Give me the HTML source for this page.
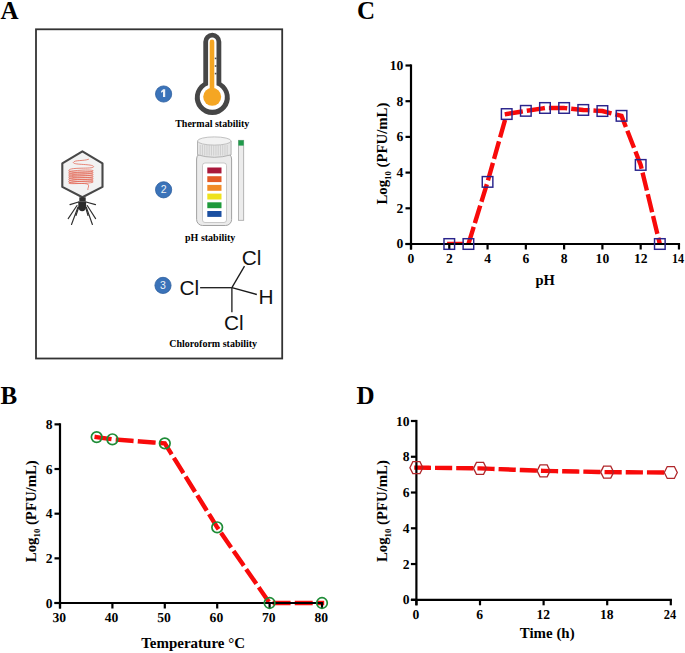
<!DOCTYPE html>
<html><head><meta charset="utf-8"><style>
html,body{margin:0;padding:0;background:#fff;width:685px;height:653px;overflow:hidden}
svg{display:block}
</style></head><body>
<svg width="685" height="653" viewBox="0 0 685 653">
<rect width="685" height="653" fill="#fff"/>
<text x="0.4" y="18.7" font-family='"Liberation Serif", serif' font-weight="bold" font-size="25">A</text>
<text x="0.5" y="403.7" font-family='"Liberation Serif", serif' font-weight="bold" font-size="25">B</text>
<text x="357" y="18.7" font-family='"Liberation Serif", serif' font-weight="bold" font-size="25">C</text>
<text x="356.5" y="403.7" font-family='"Liberation Serif", serif' font-weight="bold" font-size="25">D</text>
<rect x="36" y="29.3" width="246.2" height="329.2" fill="none" stroke="#333" stroke-width="1.8"/>
<circle cx="163.6" cy="94" r="8.1" fill="#3b73b9" stroke="#2c5e9e" stroke-width="0.8"/>
<path d="M163,89.3 L165.2,89.3 L165.2,97 L163,97 L163,91.8 Q162.2,92.5 161.1,92.8 L161.1,90.9 Q162.5,90.4 163,89.3 Z" fill="#eef2f7"/>
<circle cx="163.6" cy="189.8" r="8.1" fill="#3b73b9" stroke="#2c5e9e" stroke-width="0.8"/>
<text x="163.6" y="193.4" text-anchor="middle" font-family='"Liberation Sans", sans-serif' font-size="10.5" fill="#eef2f7">2</text>
<circle cx="163" cy="285.4" r="8.1" fill="#3b73b9" stroke="#2c5e9e" stroke-width="0.8"/>
<text x="163" y="289.0" text-anchor="middle" font-family='"Liberation Sans", sans-serif' font-size="10.5" fill="#eef2f7">3</text>
<g transform="translate(-0.4,0)">
<path d="M203.7,41.8 A9,9 0 0 1 221.7,41.8 L221.7,82.5 A17.5,17.5 0 1 1 203.7,82.5 Z" fill="#464646"/>
<path d="M208.5,41.8 A4.2,4.2 0 0 1 216.9,41.8 L216.9,85.3 A12.6,12.6 0 1 1 208.5,85.3 Z" fill="#fff"/>
<rect x="210.1" y="39.6" width="4.6" height="55" rx="2.3" fill="#f5a623"/>
<circle cx="212.6" cy="96.8" r="9" fill="#f5a623"/>
<rect x="215.2" y="57.6" width="1.7" height="1.6" fill="#505050"/>
<rect x="215.2" y="65.2" width="1.7" height="1.6" fill="#505050"/>
<rect x="215.2" y="72.8" width="1.7" height="1.6" fill="#505050"/>
</g>
<text x="212.3" y="126.6" text-anchor="middle" font-family='"Liberation Serif", serif' font-weight="bold" font-size="10">Thermal stability</text>
<g>
<rect x="196.6" y="153" width="35" height="72.5" rx="6" fill="#ebebeb" stroke="#a2a2a2" stroke-width="1"/>
<rect x="202.5" y="163" width="24" height="59.5" rx="2.5" fill="#fff" stroke="#b4b4b4" stroke-width="0.7"/>
<path d="M197.5,141 L197.5,154.8 Q214.3,159.8 231.1,154.8 L231.1,141 Z" fill="#e6e6e6" stroke="#aaaaaa" stroke-width="0.9"/>
<ellipse cx="214.3" cy="141" rx="16.8" ry="4.1" fill="#f2f2f2" stroke="#b2b2b2" stroke-width="0.8"/>
<line x1="200.2" y1="145" x2="200.2" y2="155.5" stroke="#c4c4c4" stroke-width="0.7"/>
<line x1="202.45" y1="145" x2="202.45" y2="155.5" stroke="#c4c4c4" stroke-width="0.7"/>
<line x1="204.7" y1="145" x2="204.7" y2="155.5" stroke="#c4c4c4" stroke-width="0.7"/>
<line x1="206.95" y1="145" x2="206.95" y2="155.5" stroke="#c4c4c4" stroke-width="0.7"/>
<line x1="209.2" y1="145" x2="209.2" y2="155.5" stroke="#c4c4c4" stroke-width="0.7"/>
<line x1="211.45" y1="145" x2="211.45" y2="155.5" stroke="#c4c4c4" stroke-width="0.7"/>
<line x1="213.7" y1="145" x2="213.7" y2="155.5" stroke="#c4c4c4" stroke-width="0.7"/>
<line x1="215.95" y1="145" x2="215.95" y2="155.5" stroke="#c4c4c4" stroke-width="0.7"/>
<line x1="218.2" y1="145" x2="218.2" y2="155.5" stroke="#c4c4c4" stroke-width="0.7"/>
<line x1="220.45" y1="145" x2="220.45" y2="155.5" stroke="#c4c4c4" stroke-width="0.7"/>
<line x1="222.7" y1="145" x2="222.7" y2="155.5" stroke="#c4c4c4" stroke-width="0.7"/>
<line x1="224.95" y1="145" x2="224.95" y2="155.5" stroke="#c4c4c4" stroke-width="0.7"/>
<line x1="227.2" y1="145" x2="227.2" y2="155.5" stroke="#c4c4c4" stroke-width="0.7"/>
<rect x="207.3" y="167.5" width="14.2" height="5.9" fill="#a9183b"/>
<rect x="207.3" y="176.2" width="14.2" height="5.9" fill="#e35b27"/>
<rect x="207.3" y="184.9" width="14.2" height="5.9" fill="#f18a27"/>
<rect x="207.3" y="193.6" width="14.2" height="5.9" fill="#eee21c"/>
<rect x="207.3" y="202.3" width="14.2" height="5.9" fill="#1f9a3c"/>
<rect x="207.3" y="211" width="14.2" height="5.9" fill="#1b4fa1"/>
<rect x="238.4" y="140.3" width="5.3" height="80" fill="#ececec" stroke="#a4a4a4" stroke-width="0.8"/>
<rect x="238.4" y="140.3" width="5.3" height="5.3" fill="#1f9a4a"/>
</g>
<text x="210.2" y="240.5" text-anchor="middle" font-family='"Liberation Serif", serif' font-weight="bold" font-size="10">pH stability</text>
<g stroke="#1a1a1a" stroke-width="1.3" fill="none">
<line x1="200.1" y1="287.7" x2="231.9" y2="287.7"/>
<line x1="231.9" y1="287.7" x2="244.5" y2="266.1"/>
<line x1="231.9" y1="287.7" x2="256.8" y2="294.5"/>
<line x1="231.9" y1="287.7" x2="231.9" y2="312.3"/>
</g>
<g font-family='"Liberation Sans", sans-serif' font-size="20.8" fill="#111">
<text x="241.8" y="264.9">Cl</text>
<text x="179.4" y="295">Cl</text>
<text x="258.4" y="303.7">H</text>
<text x="224.1" y="330.3">Cl</text>
</g>
<text x="213.2" y="347" text-anchor="middle" font-family='"Liberation Serif", serif' font-weight="bold" font-size="10">Chloroform stability</text>
<g>
<polygon points="82.4,151.3 102.5,163.4 102.5,186.9 82.4,197.2 62.3,186.9 62.3,163.4" fill="#f2f2f2" stroke="#484848" stroke-width="2.1" stroke-linejoin="round"/>
<path d="M88.5,159.3 C84,161.2 74.5,159.8 73.4,162.4 C72.6,165.2 92.5,163.6 93.6,166.6 C94.4,169.4 71,166.8 68.8,170.2 C67.6,172.6 86,172.8 92.6,171.3 C95.2,170.3 90,169.6 80,170.3 C72,170.8 68.4,171.3 68.8,172.05 C67.6,174.45 86,174.65 92.6,173.15 C95.2,172.15 90,171.45 80,172.15 C72,172.65 68.4,173.15 68.8,173.9 C67.6,176.3 86,176.5 92.6,175 C95.2,174 90,173.3 80,174 C72,174.5 68.4,175 68.8,175.75 C67.6,178.15 86,178.35 92.6,176.85 C95.2,175.85 90,175.15 80,175.85 C72,176.35 68.4,176.85 68.8,177.6 C67.6,180 86,180.2 92.6,178.7 C95.2,177.7 90,177 80,177.7 C72,178.2 68.4,178.7 68.8,179.45 C67.6,181.85 86,182.05 92.6,180.55 C95.2,179.55 90,178.85 80,179.55 C72,180.05 68.4,180.55 68.8,181.3 C67.6,183.7 86,183.9 92.6,182.4 C95.2,181.4 90,180.7 80,181.4 C72,181.9 68.4,182.4 68.8,183.15 C69.5,184.6 86.5,182.2 88.3,184.6 C89.4,186.3 87.6,187.8 87.8,189.6" fill="none" stroke="#e36a58" stroke-width="0.8" stroke-linecap="round"/>
<rect x="79.3" y="197.3" width="6.4" height="4.3" fill="#2f2f2f"/>
<path d="M78.2,201.4 L86.2,201.4 L86,207 Q85.5,211.3 82.2,211.3 Q78.8,211.3 78.4,207 Z" fill="#2b2b2b"/>
<g stroke="#2f2f2f" stroke-width="1.15" fill="none" stroke-linecap="round">
<line x1="78.5" y1="202" x2="70" y2="204.6"/>
<line x1="86" y1="202" x2="95.5" y2="204.6"/>
<line x1="77" y1="205.5" x2="68.2" y2="218.6"/>
<line x1="78" y1="207" x2="71.5" y2="224.5"/>
<line x1="78.8" y1="207" x2="76" y2="215.5"/>
<line x1="85.5" y1="207" x2="88" y2="215.5"/>
<line x1="87.2" y1="205.5" x2="95.6" y2="218.6"/>
<line x1="86.2" y1="207" x2="92.4" y2="224.5"/>
</g>
</g>
<defs><clipPath id="clC"><rect x="300" y="0" width="385" height="244.5"/></clipPath><clipPath id="clB"><rect x="0" y="380" width="340" height="603.5"/></clipPath><clipPath id="clD"><rect x="380" y="380" width="305" height="220.3"/></clipPath></defs>
<polyline points="449.28,244 468.42,244 487.56,181.88 506.7,114.05 525.84,110.84 544.98,107.98 564.12,107.98 583.26,109.95 602.4,111.02 621.54,115.84 640.68,164.92 659.82,244" fill="none" stroke="#f80a0a" stroke-width="4.4" stroke-dasharray="13.93 8.4" stroke-dashoffset="1.46" stroke-linecap="square" stroke-linejoin="miter" clip-path="url(#clC)"/>
<polyline points="96.68,437.09 112.4,439.32 164.8,443.34 217.2,527.3 269.6,603 322,603" fill="none" stroke="#f80a0a" stroke-width="4.4" stroke-dasharray="13.52 8.6" stroke-dashoffset="0.72" stroke-linecap="square" stroke-linejoin="miter" clip-path="url(#clB)"/>
<polyline points="416.4,467.67 480,468.38 543.6,470.89 607.2,472.14 662.32,472.49" fill="none" stroke="#f80a0a" stroke-width="4.4" stroke-dasharray="12.8 8.4" stroke-dashoffset="0.4" stroke-linecap="square" stroke-linejoin="miter" clip-path="url(#clD)"/>
<g font-family='"Liberation Serif", serif' font-weight="bold" font-size="13.6" text-rendering="geometricPrecision">
<line x1="411" y1="64.4" x2="411" y2="249.5" stroke="#000" stroke-width="2.2"/>
<line x1="405.5" y1="244" x2="680.06" y2="244" stroke="#000" stroke-width="2.2"/>
<line x1="405.5" y1="244" x2="411" y2="244" stroke="#000" stroke-width="2.2"/>
<text x="403.4" y="248.3" text-anchor="end">0</text>
<line x1="405.5" y1="208.3" x2="411" y2="208.3" stroke="#000" stroke-width="2.2"/>
<text x="403.4" y="212.6" text-anchor="end">2</text>
<line x1="405.5" y1="172.6" x2="411" y2="172.6" stroke="#000" stroke-width="2.2"/>
<text x="403.4" y="176.9" text-anchor="end">4</text>
<line x1="405.5" y1="136.9" x2="411" y2="136.9" stroke="#000" stroke-width="2.2"/>
<text x="403.4" y="141.2" text-anchor="end">6</text>
<line x1="405.5" y1="101.2" x2="411" y2="101.2" stroke="#000" stroke-width="2.2"/>
<text x="403.4" y="105.5" text-anchor="end">8</text>
<line x1="405.5" y1="65.5" x2="411" y2="65.5" stroke="#000" stroke-width="2.2"/>
<text x="403.4" y="69.8" text-anchor="end">10</text>
<line x1="411" y1="244" x2="411" y2="249.5" stroke="#000" stroke-width="2.2"/>
<text x="411" y="262.9" text-anchor="middle">0</text>
<line x1="449.28" y1="244" x2="449.28" y2="249.5" stroke="#000" stroke-width="2.2"/>
<text x="449.28" y="262.9" text-anchor="middle">2</text>
<line x1="487.56" y1="244" x2="487.56" y2="249.5" stroke="#000" stroke-width="2.2"/>
<text x="487.56" y="262.9" text-anchor="middle">4</text>
<line x1="525.84" y1="244" x2="525.84" y2="249.5" stroke="#000" stroke-width="2.2"/>
<text x="525.84" y="262.9" text-anchor="middle">6</text>
<line x1="564.12" y1="244" x2="564.12" y2="249.5" stroke="#000" stroke-width="2.2"/>
<text x="564.12" y="262.9" text-anchor="middle">8</text>
<line x1="602.4" y1="244" x2="602.4" y2="249.5" stroke="#000" stroke-width="2.2"/>
<text x="602.4" y="262.9" text-anchor="middle">10</text>
<line x1="640.68" y1="244" x2="640.68" y2="249.5" stroke="#000" stroke-width="2.2"/>
<text x="640.68" y="262.9" text-anchor="middle">12</text>
<line x1="678.96" y1="244" x2="678.96" y2="249.5" stroke="#000" stroke-width="2.2"/>
<text transform="translate(678.06,262.9) scale(0.89,1)" text-anchor="middle">14</text>
<line x1="60" y1="423.26" x2="60" y2="608.5" stroke="#000" stroke-width="2.2"/>
<line x1="54.5" y1="603" x2="323.1" y2="603" stroke="#000" stroke-width="2.2"/>
<line x1="54.5" y1="603" x2="60" y2="603" stroke="#000" stroke-width="2.2"/>
<text x="52.6" y="607.6" text-anchor="end">0</text>
<line x1="54.5" y1="558.34" x2="60" y2="558.34" stroke="#000" stroke-width="2.2"/>
<text x="52.6" y="562.94" text-anchor="end">2</text>
<line x1="54.5" y1="513.68" x2="60" y2="513.68" stroke="#000" stroke-width="2.2"/>
<text x="52.6" y="518.28" text-anchor="end">4</text>
<line x1="54.5" y1="469.02" x2="60" y2="469.02" stroke="#000" stroke-width="2.2"/>
<text x="52.6" y="473.62" text-anchor="end">6</text>
<line x1="54.5" y1="424.36" x2="60" y2="424.36" stroke="#000" stroke-width="2.2"/>
<text x="52.6" y="428.96" text-anchor="end">8</text>
<line x1="60" y1="603" x2="60" y2="608.5" stroke="#000" stroke-width="2.2"/>
<text x="59.2" y="621.8" text-anchor="middle">30</text>
<line x1="112.4" y1="603" x2="112.4" y2="608.5" stroke="#000" stroke-width="2.2"/>
<text x="111.6" y="621.8" text-anchor="middle">40</text>
<line x1="164.8" y1="603" x2="164.8" y2="608.5" stroke="#000" stroke-width="2.2"/>
<text x="164" y="621.8" text-anchor="middle">50</text>
<line x1="217.2" y1="603" x2="217.2" y2="608.5" stroke="#000" stroke-width="2.2"/>
<text x="216.4" y="621.8" text-anchor="middle">60</text>
<line x1="269.6" y1="603" x2="269.6" y2="608.5" stroke="#000" stroke-width="2.2"/>
<text x="268.8" y="621.8" text-anchor="middle">70</text>
<line x1="322" y1="603" x2="322" y2="608.5" stroke="#000" stroke-width="2.2"/>
<text x="321.2" y="621.8" text-anchor="middle">80</text>
<line x1="416.4" y1="419.9" x2="416.4" y2="605.3" stroke="#000" stroke-width="2.2"/>
<line x1="410.9" y1="599.8" x2="671.9" y2="599.8" stroke="#000" stroke-width="2.2"/>
<line x1="410.9" y1="599.8" x2="416.4" y2="599.8" stroke="#000" stroke-width="2.2"/>
<text x="409.6" y="604.4" text-anchor="end">0</text>
<line x1="410.9" y1="564.04" x2="416.4" y2="564.04" stroke="#000" stroke-width="2.2"/>
<text x="409.6" y="568.64" text-anchor="end">2</text>
<line x1="410.9" y1="528.28" x2="416.4" y2="528.28" stroke="#000" stroke-width="2.2"/>
<text x="409.6" y="532.88" text-anchor="end">4</text>
<line x1="410.9" y1="492.52" x2="416.4" y2="492.52" stroke="#000" stroke-width="2.2"/>
<text x="409.6" y="497.12" text-anchor="end">6</text>
<line x1="410.9" y1="456.76" x2="416.4" y2="456.76" stroke="#000" stroke-width="2.2"/>
<text x="409.6" y="461.36" text-anchor="end">8</text>
<line x1="410.9" y1="421" x2="416.4" y2="421" stroke="#000" stroke-width="2.2"/>
<text x="409.6" y="425.6" text-anchor="end">10</text>
<line x1="416.4" y1="599.8" x2="416.4" y2="605.3" stroke="#000" stroke-width="2.2"/>
<text x="416" y="619" text-anchor="middle">0</text>
<line x1="480" y1="599.8" x2="480" y2="605.3" stroke="#000" stroke-width="2.2"/>
<text x="479.6" y="619" text-anchor="middle">6</text>
<line x1="543.6" y1="599.8" x2="543.6" y2="605.3" stroke="#000" stroke-width="2.2"/>
<text x="543.2" y="619" text-anchor="middle">12</text>
<line x1="607.2" y1="599.8" x2="607.2" y2="605.3" stroke="#000" stroke-width="2.2"/>
<text x="606.8" y="619" text-anchor="middle">18</text>
<line x1="670.8" y1="599.8" x2="670.8" y2="605.3" stroke="#000" stroke-width="2.2"/>
<text transform="translate(669.9,619) scale(0.91,1)" text-anchor="middle">24</text>
</g>
<text transform="translate(386.8,153.6) rotate(-90) scale(1.02,1)" text-anchor="middle" font-family='"Liberation Serif", serif' font-weight="bold" font-size="14.5">Log<tspan font-size="8.6" dy="4.4">10</tspan><tspan dy="-4.4"> (PFU/mL)</tspan></text>
<text transform="translate(35.8,511.2) rotate(-90) scale(1.02,1)" text-anchor="middle" font-family='"Liberation Serif", serif' font-weight="bold" font-size="14.5">Log<tspan font-size="8.6" dy="4.4">10</tspan><tspan dy="-4.4"> (PFU/mL)</tspan></text>
<text transform="translate(386.6,511.1) rotate(-90) scale(1.02,1)" text-anchor="middle" font-family='"Liberation Serif", serif' font-weight="bold" font-size="14.5">Log<tspan font-size="8.6" dy="4.4">10</tspan><tspan dy="-4.4"> (PFU/mL)</tspan></text>
<g font-family='"Liberation Serif", serif' font-weight="bold" font-size="14.5" text-anchor="middle">
<text x="545.1" y="284.8">pH</text>
<text transform="translate(193.1,647.8) scale(1.033,1)">Temperature °C</text>
<text transform="translate(547.2,637.8) scale(1.03,1)">Time (h)</text>
</g>
<rect x="443.98" y="238.7" width="10.6" height="10.6" fill="none" stroke="#2a248c" stroke-width="1.45"/>
<rect x="463.12" y="238.7" width="10.6" height="10.6" fill="none" stroke="#2a248c" stroke-width="1.45"/>
<rect x="482.26" y="176.58" width="10.6" height="10.6" fill="none" stroke="#2a248c" stroke-width="1.45"/>
<rect x="501.4" y="108.75" width="10.6" height="10.6" fill="none" stroke="#2a248c" stroke-width="1.45"/>
<rect x="520.54" y="105.54" width="10.6" height="10.6" fill="none" stroke="#2a248c" stroke-width="1.45"/>
<rect x="539.68" y="102.68" width="10.6" height="10.6" fill="none" stroke="#2a248c" stroke-width="1.45"/>
<rect x="558.82" y="102.68" width="10.6" height="10.6" fill="none" stroke="#2a248c" stroke-width="1.45"/>
<rect x="577.96" y="104.65" width="10.6" height="10.6" fill="none" stroke="#2a248c" stroke-width="1.45"/>
<rect x="597.1" y="105.72" width="10.6" height="10.6" fill="none" stroke="#2a248c" stroke-width="1.45"/>
<rect x="616.24" y="110.54" width="10.6" height="10.6" fill="none" stroke="#2a248c" stroke-width="1.45"/>
<rect x="635.38" y="159.62" width="10.6" height="10.6" fill="none" stroke="#2a248c" stroke-width="1.45"/>
<rect x="654.52" y="238.7" width="10.6" height="10.6" fill="none" stroke="#2a248c" stroke-width="1.45"/>
<circle cx="96.68" cy="437.09" r="5.3" fill="none" stroke="#1e8c37" stroke-width="1.7"/>
<circle cx="112.4" cy="439.32" r="5.3" fill="none" stroke="#1e8c37" stroke-width="1.7"/>
<circle cx="164.8" cy="443.34" r="5.3" fill="none" stroke="#1e8c37" stroke-width="1.7"/>
<circle cx="217.2" cy="527.3" r="5.3" fill="none" stroke="#1e8c37" stroke-width="1.7"/>
<circle cx="269.6" cy="603" r="5.3" fill="none" stroke="#1e8c37" stroke-width="1.7"/>
<circle cx="322" cy="603" r="5.3" fill="none" stroke="#1e8c37" stroke-width="1.7"/>
<polygon points="409.9,467.67 412.85,461.72 419.95,461.72 422.9,467.67 419.95,473.62 412.85,473.62" fill="none" stroke="#b0262a" stroke-width="1.3"/>
<polygon points="473.5,468.38 476.45,462.43 483.55,462.43 486.5,468.38 483.55,474.33 476.45,474.33" fill="none" stroke="#b0262a" stroke-width="1.3"/>
<polygon points="537.1,470.89 540.05,464.94 547.15,464.94 550.1,470.89 547.15,476.84 540.05,476.84" fill="none" stroke="#b0262a" stroke-width="1.3"/>
<polygon points="600.7,472.14 603.65,466.19 610.75,466.19 613.7,472.14 610.75,478.09 603.65,478.09" fill="none" stroke="#b0262a" stroke-width="1.3"/>
<polygon points="664.3,472.49 667.25,466.54 674.35,466.54 677.3,472.49 674.35,478.44 667.25,478.44" fill="none" stroke="#b0262a" stroke-width="1.3"/>
</svg>
</body></html>
